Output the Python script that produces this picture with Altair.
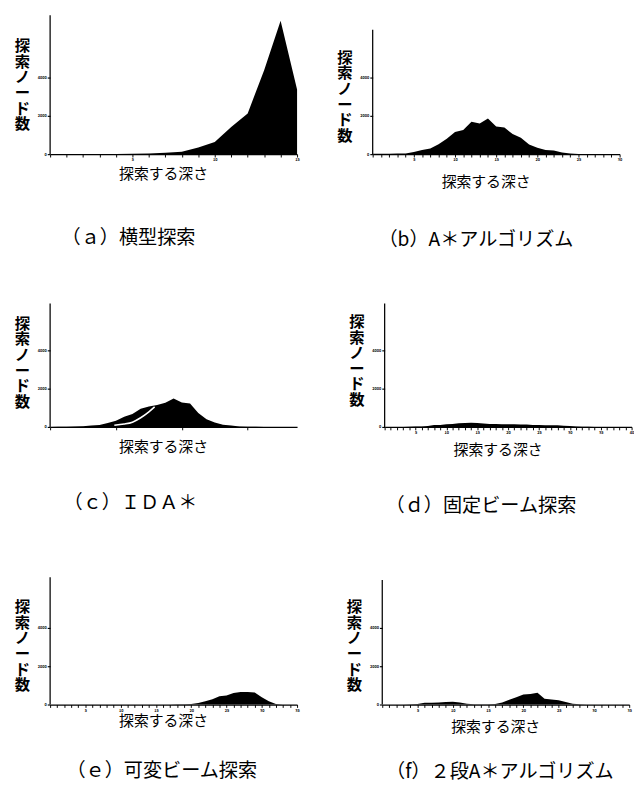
import altair as alt
import pandas as pd

FONT = "Noto Sans CJK JP"

# ---- data (node counts per search depth) ----
a_x = list(range(0, 16))
a_y = [0, 2, 4, 7, 12, 20, 30, 70, 130, 350, 630, 1420, 2130, 4380, 6970, 3380]

b_x = list(range(0, 31))
b_y = [20, 20, 20, 30, 40, 110, 220, 300, 520, 810, 1160, 1260, 1690, 1600, 1860,
       1450, 1390, 1050, 860, 500, 340, 220, 190, 80, 30, 10, 10, 5, 5, 5, 5]

c_x = list(range(0, 31))
c_y = [0, 5, 10, 20, 40, 70, 100, 200, 320, 530, 680, 950, 1070, 1150, 1270,
       1480, 1280, 1230, 730, 400, 230, 120, 70, 30, 10, 5, 0, 0, 0, 0, 0]
c_inner_x = [7.8, 9, 10, 11, 12, 12.7]
c_inner_y = [90, 150, 250, 480, 790, 1050]

d_x = list(range(0, 41))
d_y = [0, 0, 0, 0, 5, 20, 30, 50, 100, 100, 140, 150, 190, 200, 220, 200, 180, 160,
       150, 140, 140, 135, 130, 125, 105, 100, 95, 90, 85, 60, 45, 30, 15, 5, 0,
       0, 0, 0, 0, 0, 0]

e_x = list(range(0, 36))
e_y = [5, 5, 5, 5, 5, 5, 5, 5, 5, 5, 5, 5, 5, 5, 5, 5, 5, 5, 10, 15,
       30, 80, 170, 280, 430, 470, 600, 650, 650, 630, 380, 170, 30, 0, 0, 0]

f_x = list(range(0, 36))
f_y = [0, 0, 0, 5, 10, 25, 90, 95, 110, 130, 150, 100, 35, 15, 15, 15, 30, 110,
       250, 380, 520, 550, 620, 300, 260, 220, 130, 45, 10, 5, 0, 0, 0, 0, 0, 0]

x_max = [15, 30, 30, 40, 35, 35]
axis_top = [7250, 6500, 6450, 6450, 6650, 6500]
y_ticks = [0, 1000, 2000, 3000, 4000]

captions = ["（ａ）横型探索", "（b）A＊アルゴリズム", "（ｃ）ＩＤＡ＊",
            "（ｄ）固定ビーム探索", "（ｅ）可変ビーム探索", "（f）２段A＊アルゴリズム"]
x_title = "探索する深さ"
y_title = ["探", "索", "ノ", "ー", "ド", "数"]

W = 258


def panel(xs, ys, xmax, ytop, h, cap, cap_dx, cap_off, xt_y, yt_y, inner=None):
    dom = h * 50
    df = pd.DataFrame({"x": xs, "y": ys})
    xscale = alt.Scale(domain=[0, xmax], nice=False, zero=True)
    yscale = alt.Scale(domain=[0, dom], nice=False, zero=True)
    xaxis = alt.Axis(
        values=list(range(xmax + 1)), format="d",
        labelExpr="datum.value % 5 == 0 && datum.value > 0 ? datum.label : ''",
        labelFontSize=4, labelFontWeight="bold", labelFont=FONT, labelColor="black",
        labelPadding=1, labelFlush=False, labelOverlap=False,
        domainColor="black", domainWidth=1.3, tickColor="black", tickSize=3,
        tickWidth=1, grid=False,
        title=x_title, titleX=118, titleY=xt_y, titleAlign="center",
        titleBaseline="middle", titleFont=FONT, titleFontSize=15.5,
        titleFontWeight="normal", titleColor="black")
    yaxis = alt.Axis(
        values=y_ticks, format="d",
        labelExpr="datum.value % 2000 == 0 ? datum.label : ''",
        labelFontSize=4, labelFontWeight="bold", labelFont=FONT, labelColor="black",
        labelPadding=1, domain=False, grid=False, tickColor="black", tickSize=3,
        tickWidth=1.2,
        title=y_title, titleAngle=0, titleX=-29.5, titleY=yt_y, titleAlign="center",
        titleBaseline="top", titleFont=FONT, titleFontSize=16,
        titleFontWeight="bold", titleLineHeight=16.3, titleColor="black")
    area = alt.Chart(df).mark_area(color="black", interpolate="linear").encode(
        x=alt.X("x:Q", scale=xscale, axis=xaxis),
        y=alt.Y("y:Q", scale=yscale, axis=yaxis),
    )
    rule_df = pd.DataFrame({"y": [0], "hi": [ytop]})
    rule = alt.Chart(rule_df).mark_rule(color="black", strokeWidth=1.3).encode(
        x=alt.value(0),
        y=alt.Y("y:Q", scale=yscale),
        y2="hi:Q",
    )
    layers = [area, rule]
    if inner is not None:
        idf = pd.DataFrame({"x": inner[0], "y": inner[1]})
        layers.append(
            alt.Chart(idf).mark_line(color="white", strokeWidth=1.6,
                                     interpolate="monotone").encode(
                x=alt.X("x:Q", scale=xscale),
                y=alt.Y("y:Q", scale=yscale),
            )
        )
    return alt.layer(*layers).properties(
        width=W, height=h,
        title=alt.TitleParams(text=cap, orient="bottom", anchor="start",
                              frame="group", dx=cap_dx, offset=cap_off,
                              font=FONT, fontSize=20, fontWeight="normal",
                              color="black"),
    )


H1, H2, H3 = 145, 133, 145

pa = panel(a_x, a_y, x_max[0], axis_top[0], H1, captions[0], 12, 49, 20, 24)
pb = panel(b_x, b_y, x_max[1], axis_top[1], H1, captions[1], 6, 42, 29, 36)
pc = panel(c_x, c_y, x_max[2], axis_top[2], H2, captions[2], 14, 40, 21, 17,
           inner=(c_inner_x, c_inner_y))
pd_ = panel(d_x, d_y, x_max[3], axis_top[3], H2, captions[3], 1, 40, 24, 15)
pe = panel(e_x, e_y, x_max[4], axis_top[4], H3, captions[4], 17, 34, 17, 35)
pf = panel(f_x, f_y, x_max[5], axis_top[5], H3, captions[5], 4, 29, 23, 35)

row1 = alt.hconcat(pa, pb, spacing=38)
row2 = alt.hconcat(pc, pd_, spacing=53.5)
row3 = alt.hconcat(pe, pf, spacing=48)

chart = alt.vconcat(row1, row2, row3, spacing=52).properties(
    padding={"left": 6, "top": -11, "right": 0, "bottom": 0},
    background="white",
).configure_view(strokeWidth=0)

chart.save("out.html", embed_options={"renderer": "svg", "actions": False})
